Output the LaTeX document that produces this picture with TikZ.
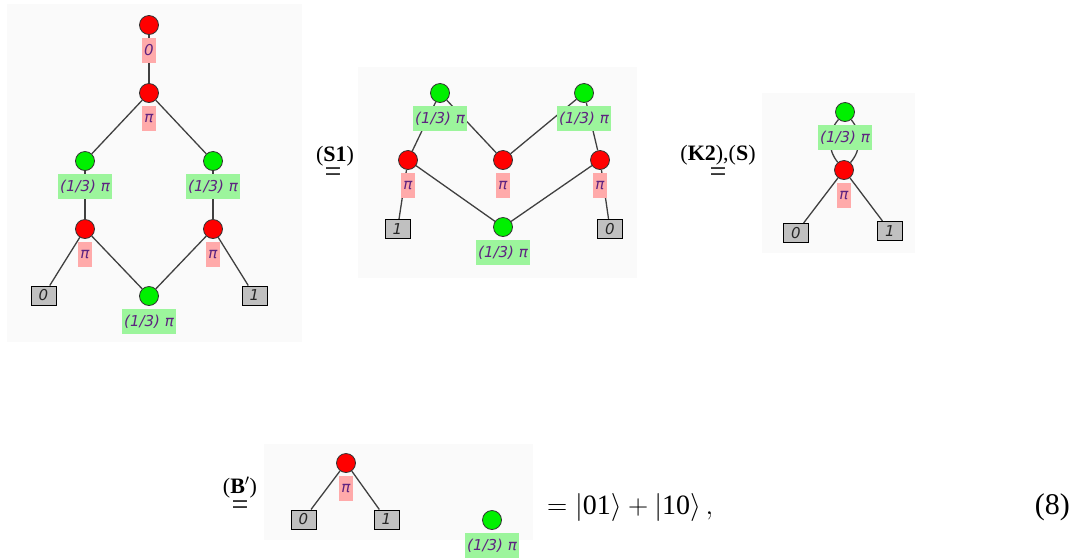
\RequirePackage{fix-cm}
\documentclass[tikz,border=0pt]{standalone}
\usepackage{fontspec}
\setmainfont{Liberation Serif}
\newfontfamily\zxfont{DejaVu Sans}
\pgfdeclarelayer{panel}
\pgfdeclarelayer{wires}
\pgfsetlayers{panel,wires,main}
\definecolor{zred}{HTML}{FF0000}
\definecolor{zgreen}{HTML}{00F000}
\definecolor{phasered}{HTML}{FFAAAA}
\definecolor{phasegreen}{HTML}{9CF59C}
\definecolor{phasetext}{HTML}{5E2380}
\definecolor{panelbg}{HTML}{FAFAFA}
\definecolor{boundary}{HTML}{C0C0C0}
\definecolor{wirecol}{HTML}{404040}
\begin{document}
\begin{tikzpicture}[x=1pt,y=-1pt,
  spider/.style={circle,draw=black!80,line width=0.8pt,minimum size=19pt,inner sep=0pt},
  xspider/.style={spider,fill=zred},
  zspider/.style={spider,fill=zgreen},
  phase/.style={inner xsep=2.6pt,inner ysep=0pt,minimum height=25pt,text=phasetext,
    font=\zxfont\fontsize{15}{18}\selectfont\itshape},
  xphase/.style={phase,fill=phasered},
  zphase/.style={phase,fill=phasegreen},
  bnd/.style={draw=black,line width=1pt,fill=boundary,minimum width=25pt,minimum height=19pt,
    inner sep=0pt,text=black!85,font=\zxfont\fontsize{15}{18}\selectfont\itshape},
  wire/.style={draw=wirecol,line width=1.3pt},
  panelbox/.style={fill=panelbg},
  rulelabel/.style={font=\fontsize{22}{26}\selectfont,inner sep=0pt,anchor=base},
  ruleeq/.style={font=\fontsize{30}{34}\selectfont,inner sep=0pt,anchor=base},
  maintext/.style={font=\fontsize{28}{32}\selectfont,inner sep=0pt},
]
\useasboundingbox (0,0) rectangle (1081,558);

% ---------- first diagram ----------
\node[xspider] (a) at (149,25) {};
\node[xspider] (b) at (149,93) {};
\node[zspider] (c) at (85,161) {};
\node[zspider] (d) at (213,161) {};
\node[xspider] (e) at (85,229) {};
\node[xspider] (f) at (213,229) {};
\node[zspider] (h) at (149,296) {};
\node[bnd] (g0) at (43.5,295.5) {0};
\node[bnd] (g1) at (254.5,295.5) {1};
\node[xphase] (pa) at ([yshift=-25.5pt]a.center) {0};
\node[xphase] (pb) at ([yshift=-25.5pt]b.center) {π};
\node[zphase] (pc) at ([yshift=-25.5pt]c.center) {(1/3) π};
\node[zphase] (pd) at ([yshift=-25.5pt]d.center) {(1/3) π};
\node[xphase] (pe) at ([yshift=-25.5pt]e.center) {π};
\node[xphase] (pf) at ([yshift=-25.5pt]f.center) {π};
\node[zphase] (ph) at ([yshift=-25.5pt]h.center) {(1/3) π};
\begin{pgfonlayer}{wires}
  \draw[wire] (a) -- (b);
  \draw[wire] (b) -- (c);
  \draw[wire] (b) -- (d);
  \draw[wire] (c) -- (e);
  \draw[wire] (d) -- (f);
  \draw[wire] (e) -- (g0);
  \draw[wire] (e) -- (h);
  \draw[wire] (f) -- (h);
  \draw[wire] (f) -- (g1);
\end{pgfonlayer}
\begin{pgfonlayer}{panel}
  \fill[panelbox] (7,4) rectangle (302,342);
\end{pgfonlayer}

% ---------- rule S1 ----------
\node[rulelabel] (s1lab) at (335,161.5) {(\textbf{S1})};
\node[ruleeq] (s1eq) at (333,181) {=};

% ---------- second diagram ----------
\node[zspider] (k) at (440,93) {};
\node[zspider] (l) at (584,93) {};
\node[xspider] (m) at (408,160) {};
\node[xspider] (n) at (503,160) {};
\node[xspider] (o) at (600,160) {};
\node[zspider] (q) at (503,227) {};
\node[bnd] (r1) at (397.5,229) {1};
\node[bnd] (r0) at (610,229) {0};
\node[zphase] (pk) at ([yshift=-25.5pt]k.center) {(1/3) π};
\node[zphase] (pl) at ([yshift=-25.5pt]l.center) {(1/3) π};
\node[xphase] (pm) at ([yshift=-25.5pt]m.center) {π};
\node[xphase] (pn) at ([yshift=-25.5pt]n.center) {π};
\node[xphase] (po) at ([yshift=-25.5pt]o.center) {π};
\node[zphase] (pq) at ([yshift=-25.5pt]q.center) {(1/3) π};
\begin{pgfonlayer}{wires}
  \draw[wire] (k) -- (m);
  \draw[wire] (k) -- (n);
  \draw[wire] (l) -- (n);
  \draw[wire] (l) -- (o);
  \draw[wire] (m) -- (r1);
  \draw[wire] (m) -- (q);
  \draw[wire] (o) -- (q);
  \draw[wire] (o) -- (r0);
\end{pgfonlayer}
\begin{pgfonlayer}{panel}
  \fill[panelbox] (358,67) rectangle (637,278);
\end{pgfonlayer}

% ---------- rules K2, S ----------
\node[rulelabel] (k2lab) at (718,160.5) {(\textbf{K2}),(\textbf{S})};
\node[ruleeq] (k2eq) at (718,181.5) {=};

% ---------- third diagram ----------
\node[zspider] (t) at (845,112) {};
\node[xspider] (u) at (844,170) {};
\node[bnd] (v0) at (796,233) {0};
\node[bnd] (v1) at (890,231) {1};
\node[zphase] (pt) at ([yshift=-25.5pt]t.center) {(1/3) π};
\node[xphase] (pu) at ([yshift=-25.5pt]u.center) {π};
\begin{pgfonlayer}{wires}
  \draw[wire] (t) to[bend right=40] (u);
  \draw[wire] (t) to[bend left=40] (u);
  \draw[wire] (u) -- (v0);
  \draw[wire] (u) -- (v1);
\end{pgfonlayer}
\begin{pgfonlayer}{panel}
  \fill[panelbox] (762,93) rectangle (915,253);
\end{pgfonlayer}

% ---------- rule B' ----------
\node[rulelabel] (blab) at (240,493) {(\textbf{B}$'$)};
\node[ruleeq] (beq) at (240,514.5) {=};

% ---------- fourth diagram ----------
\node[xspider] (w) at (346,463) {};
\node[bnd] (w0) at (303.5,519.5) {0};
\node[bnd] (w1) at (386.5,519.5) {1};
\node[zspider] (z) at (492,520) {};
\node[xphase] (pw) at ([yshift=-25.5pt]w.center) {π};
\node[zphase] (pz) at ([yshift=-25.5pt]z.center) {(1/3) π};
\begin{pgfonlayer}{wires}
  \draw[wire] (w) -- (w0);
  \draw[wire] (w) -- (w1);
\end{pgfonlayer}
\begin{pgfonlayer}{panel}
  \fill[panelbox] (264,444) rectangle (533,540);
\end{pgfonlayer}

% ---------- result ----------
\node[maintext,anchor=base west] (res) at (547,514)
  {$=|\mbox{01}\rangle+|\mbox{10}\rangle\,,$};
\node[ruleeq,anchor=base east] (eqno) at (1070,514) {(8)};
\end{tikzpicture}
\end{document}
